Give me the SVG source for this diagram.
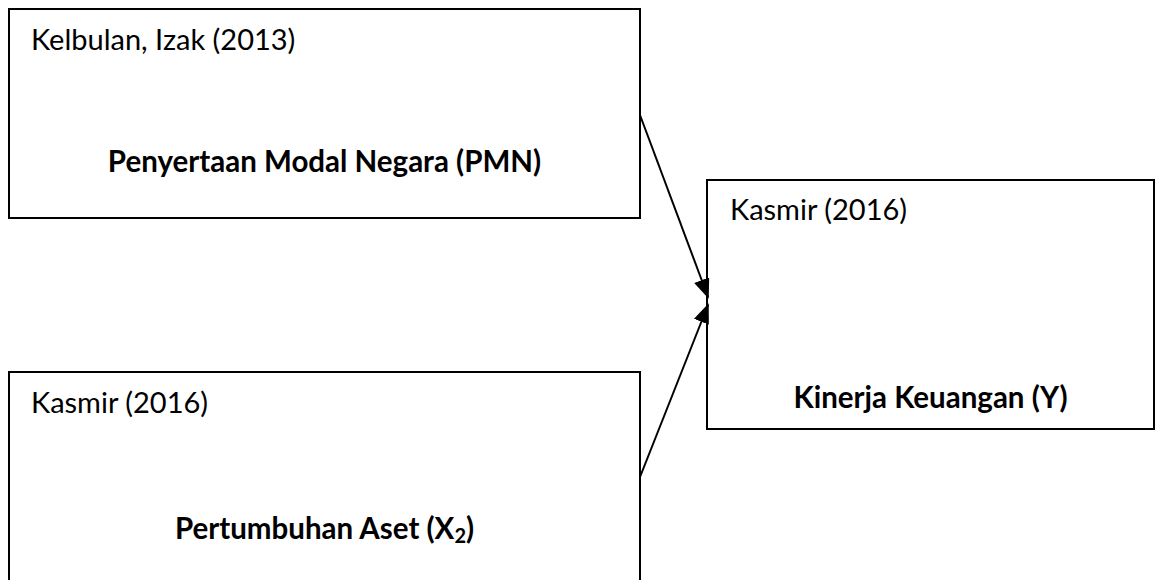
<svg xmlns="http://www.w3.org/2000/svg" width="1157" height="580" viewBox="0 0 1157 580">
<style>
.box{fill:#fff;stroke:#000;stroke-width:2}
.src{font-family:Lato,"Liberation Sans",sans-serif;font-size:29px;fill:#000}
.ttl{font-family:Lato,"Liberation Sans",sans-serif;font-size:29.5px;font-weight:bold;fill:#000;text-anchor:middle}
.con{stroke:#000;stroke-width:2;fill:none;marker-end:url(#ah)}
</style>
<defs>
<marker id="ah" markerWidth="10" markerHeight="8" refX="9" refY="4" orient="auto" markerUnits="strokeWidth">
<path d="M0,0 L10,4 L0,8 Z" fill="#000"/>
</marker>
</defs>
<rect width="1157" height="580" fill="#fff"/>
<g id="node-pmn">
<rect class="box" x="9" y="9" width="631" height="209"/>
<text class="src" x="31" y="50">Kelbulan, Izak (2013)</text>
<text class="ttl" x="324.5" y="172">Penyertaan Modal Negara (PMN)</text>
</g>
<g id="node-aset">
<rect class="box" x="9" y="372" width="631" height="240"/>
<text class="src" x="31" y="413">Kasmir (2016)</text>
<text class="ttl" x="324.5" y="539">Pertumbuhan Aset (X<tspan font-size="20" dy="4">2</tspan><tspan dy="-4">)</tspan></text>
</g>
<g id="node-kinerja">
<rect class="box" x="707" y="180" width="447" height="249"/>
<text class="src" x="730" y="220">Kasmir (2016)</text>
<text class="ttl" x="930.5" y="408">Kinerja Keuangan (Y)</text>
</g>
<g id="connectors">
<line class="con" x1="640" y1="115" x2="708" y2="297"/>
<line class="con" x1="640" y1="477" x2="708" y2="305"/>
</g>
</svg>
